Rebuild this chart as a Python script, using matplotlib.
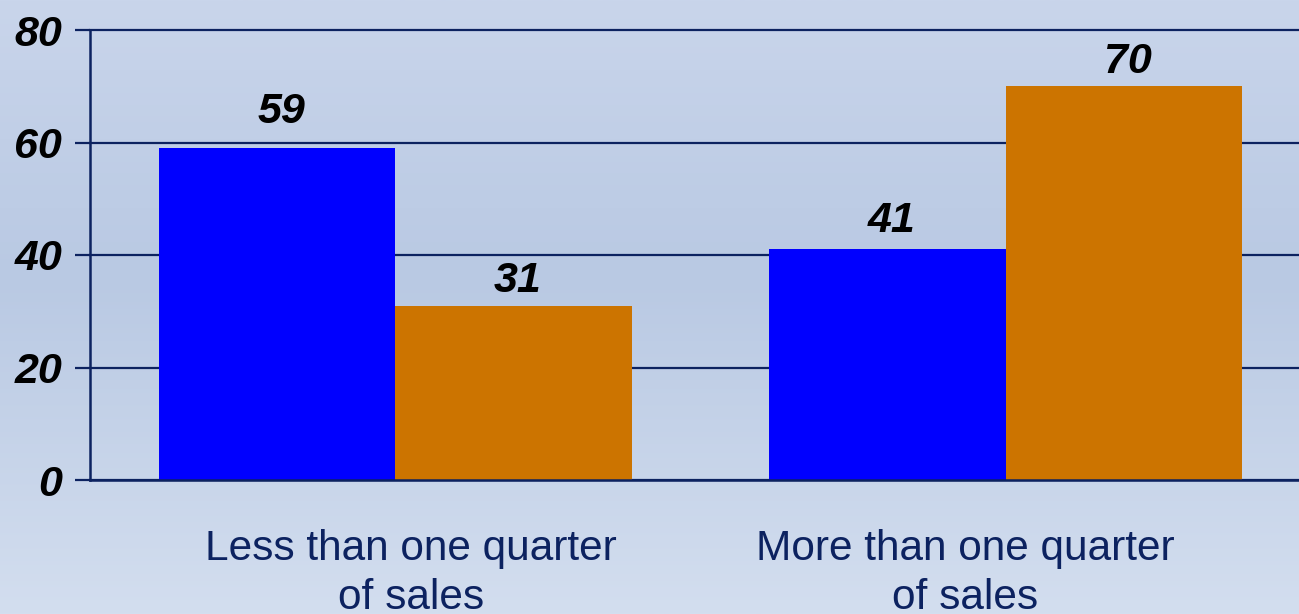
import numpy as np
import matplotlib.pyplot as plt
from matplotlib.colors import LinearSegmentedColormap

# datos
categorias = ["Less than one quarter\nof sales", "More than one quarter\nof sales"]
serie_azul = [59, 41]
serie_naranja = [31, 70]
yticks = [0, 20, 40, 60, 80]

navy = "#0c2260"
azul = "#0000ff"
naranja = "#cc7400"

plt.rcParams['font.family'] = ['Liberation Sans', 'DejaVu Sans']

fig = plt.figure(figsize=(12.99, 6.14), dpi=100)

# fondo degradado
bg = fig.add_axes([0, 0, 1, 1], zorder=-10)
cmap = LinearSegmentedColormap.from_list(
    "fondo", [(0, "#d3deef"), (0.55, "#b9c9e3"), (1, "#c9d5eb")])
grad = np.linspace(0, 1, 256).reshape(-1, 1)
bg.imshow(grad, aspect="auto", cmap=cmap, origin="lower", extent=[0, 1, 0, 1])
bg.axis("off")

left = 90 / 1299
width = (1311 - 90) / 1299
bottom = (614 - 480) / 614
height = (480 - 30) / 614
ax = fig.add_axes([left, bottom, width, height])
ax.patch.set_alpha(0)

x = np.arange(len(categorias))
w = 0.387
b1 = ax.bar(x - w / 2, serie_azul, w, color=azul, zorder=3)
b2 = ax.bar(x + w / 2, serie_naranja, w, color=naranja, zorder=3)

# separacion de cada etiqueta sobre su barra (pts)
sep_azul = [11.5, 6]
sep_naranja = [3.6, 3]
for barras, seps in ((b1, sep_azul), (b2, sep_naranja)):
    for r, s in zip(barras, seps):
        ax.annotate(str(int(r.get_height())),
                    (r.get_x() + r.get_width() / 2, r.get_height()),
                    xytext=(3, s), textcoords="offset points",
                    ha="center", va="bottom", fontsize=31,
                    fontweight="bold", fontstyle="italic", color="black")

ax.set_xlim(-0.5, 1.5)
ax.set_ylim(0, 80)
ax.set_yticks(yticks)
ax.set_yticklabels([str(t) for t in yticks], fontsize=31,
                   fontweight="bold", fontstyle="italic", color="black")
ax.tick_params(axis="y", length=11, width=1.6, color=navy, pad=9)
ax.set_xticks([])
ax.yaxis.grid(True, color=navy, linewidth=1.6, zorder=0)
ax.set_axisbelow(True)
for gl in ax.get_ygridlines():
    gl.set_clip_on(False)

for s in ["top", "right"]:
    ax.spines[s].set_visible(False)
for s in ["left", "bottom"]:
    ax.spines[s].set_color(navy)
    ax.spines[s].set_linewidth(1.8)
ax.spines["bottom"].set_zorder(4)

# etiquetas de categorias
desplaz = [0.026, -0.066]
trans = ax.get_xaxis_transform()
for i, c in enumerate(categorias):
    ax.text(x[i] + desplaz[i], -0.109, c, transform=trans, ha="center",
            va="top", fontsize=30.5, color=navy, linespacing=1.28)

fig.savefig("out.png", dpi=100)
